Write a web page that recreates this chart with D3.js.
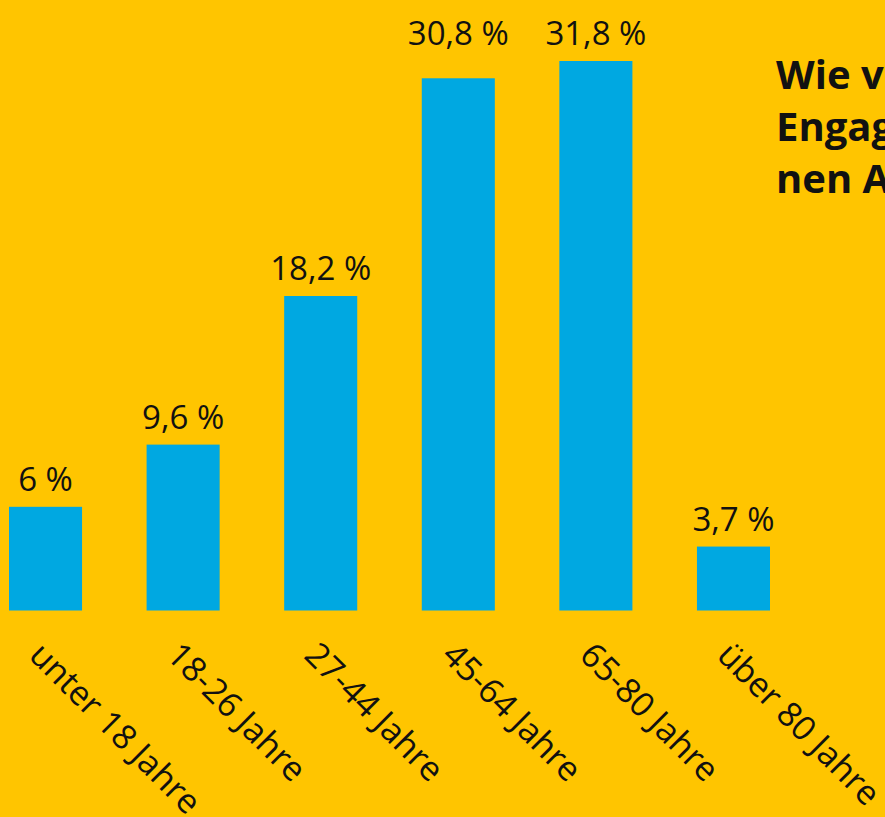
<!DOCTYPE html>
<html lang="de">
<head>
    <meta charset="utf-8">
    <title>Engagierte nach Altersgruppen</title>
    <script src="https://d3js.org/d3.v7.min.js"></script>
    <style>
        html, body { margin: 0; padding: 0; background: #FFC500; overflow: hidden; }
        svg { display: block; font-family: "Open Sans", "Noto Sans", sans-serif; }
    </style>
</head>
<body>
<div id="chart"></div>
<script>
    // data
    const categories = ["unter 18 Jahre", "18-26 Jahre", "27-44 Jahre", "45-64 Jahre", "65-80 Jahre", "über 80 Jahre"];
    const values = [6, 9.6, 18.2, 30.8, 31.8, 3.7];
    const valueLabels = ["6 %", "9,6 %", "18,2 %", "30,8 %", "31,8 %", "3,7 %"];
    const titleLines = ["Wie verteilen sich die", "Engagierten auf die verschiede-", "nen Altersgruppen?"];

    const width = 885, height = 817;
    const bg = "#FFC500", blue = "#00A8E1";

    const svg = d3.select("#chart").append("svg")
        .attr("width", width)
        .attr("height", height);

    svg.append("rect").attr("width", width).attr("height", height).attr("fill", bg);

    const x = d3.scaleBand()
        .domain(categories)
        .range([9, 770])
        .paddingInner(0.469)
        .paddingOuter(0);

    const y = d3.scaleLinear()
        .domain([0, d3.max(values)])
        .range([610.5, 61]);

    const data = categories.map((c, i) => ({cat: c, value: values[i], label: valueLabels[i]}));

    svg.append("g")
        .selectAll("rect")
        .data(data)
        .join("rect")
        .attr("x", d => x(d.cat))
        .attr("y", d => y(d.value))
        .attr("width", x.bandwidth())
        .attr("height", d => y(0) - y(d.value))
        .attr("fill", blue);

    // value labels; labels of bars close to the tallest one line up with its label
    const topLabel = y(d3.max(values)) - 16;
    svg.append("g")
        .selectAll("text")
        .data(data)
        .join("text")
        .attr("x", d => x(d.cat) + x.bandwidth() / 2)
        .attr("y", d => {
            const ly = y(d.value) - 16;
            return ly - topLabel < 20 ? topLabel : ly;
        })
        .attr("text-anchor", "middle")
        .attr("font-size", 33)
        .attr("fill", "#111")
        .text(d => d.label);

    // rotated category labels
    svg.append("g")
        .selectAll("text")
        .data(data)
        .join("text")
        .attr("transform", d => `translate(${x(d.cat) + x.bandwidth() / 2 - 18},657) rotate(45)`)
        .attr("text-anchor", "start")
        .attr("font-size", 34)
        .attr("fill", "#111")
        .text(d => d.cat);

    // title, cut off by the right edge
    svg.append("g")
        .selectAll("text")
        .data(titleLines)
        .join("text")
        .attr("x", 776)
        .attr("y", (d, i) => 89 + i * 52)
        .attr("font-size", 40)
        .attr("font-weight", 700)
        .attr("fill", "#111")
        .text(d => d);
</script>
</body>
</html>
